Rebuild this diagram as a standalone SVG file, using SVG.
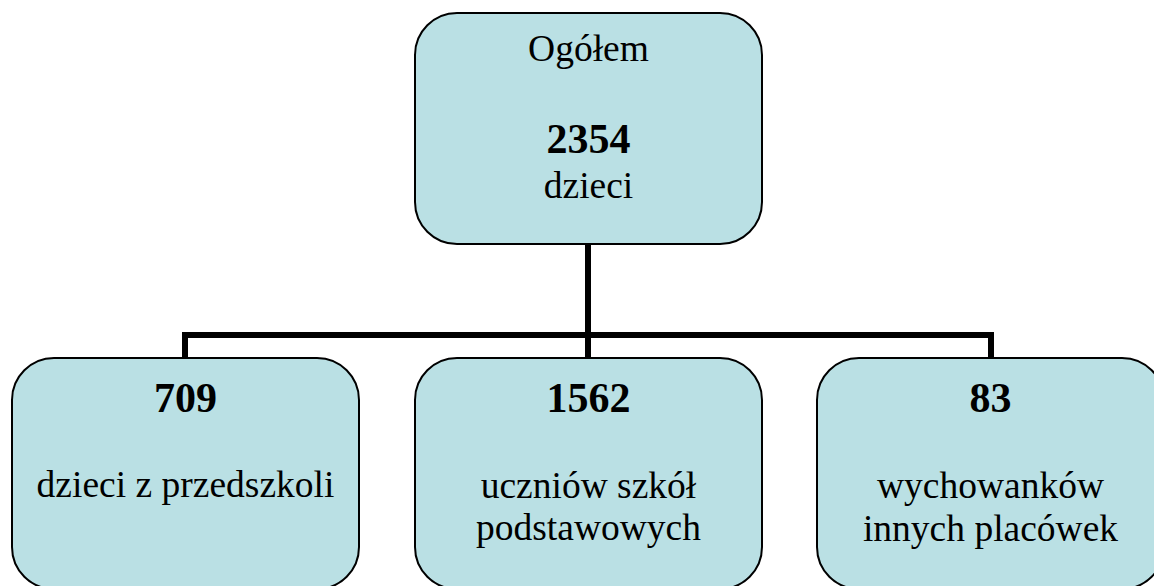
<svg xmlns="http://www.w3.org/2000/svg" width="1154" height="586" viewBox="0 0 1154 586">
<style>
.box{fill:#bae0e4;stroke:#000;stroke-width:2}
.t{font-family:"Liberation Serif","Times New Roman",serif;font-size:37.5px;fill:#000;text-anchor:middle}
.b{font-family:"Liberation Serif","Times New Roman",serif;font-size:42px;font-weight:bold;fill:#000;text-anchor:middle}
.c{fill:none;stroke:#000;stroke-width:6;stroke-linejoin:miter}
</style>
<rect width="1154" height="586" fill="#fff"/>
<g id="connectors">
<path class="c" d="M588 244 V335"/>
<path class="c" d="M185 358 V335 H991 V358"/>
<path class="c" d="M588 335 V358"/>
</g>
<g id="node-total">
<rect class="box" x="415" y="13" width="347" height="231" rx="42" ry="42"/>
<text class="t" x="588.5" y="61">Ogółem</text>
<text class="b" x="588.5" y="153">2354</text>
<text class="t" x="588.5" y="198">dzieci</text>
</g>
<g id="node-preschool">
<rect class="box" x="12" y="358" width="347" height="231" rx="42" ry="42"/>
<text class="b" x="185.5" y="412">709</text>
<text class="t" x="185.5" y="497">dzieci z przedszkoli</text>
</g>
<g id="node-primary">
<rect class="box" x="415" y="358" width="347" height="231" rx="42" ry="42"/>
<text class="b" x="588.5" y="412">1562</text>
<text class="t" x="588.5" y="498">uczniów szkół</text>
<text class="t" x="588.5" y="540">podstawowych</text>
</g>
<g id="node-other">
<rect class="box" x="817" y="358" width="347" height="231" rx="42" ry="42"/>
<text class="b" x="990.5" y="412">83</text>
<text class="t" x="990.5" y="498">wychowanków</text>
<text class="t" x="990.5" y="541">innych placówek</text>
</g>
</svg>
